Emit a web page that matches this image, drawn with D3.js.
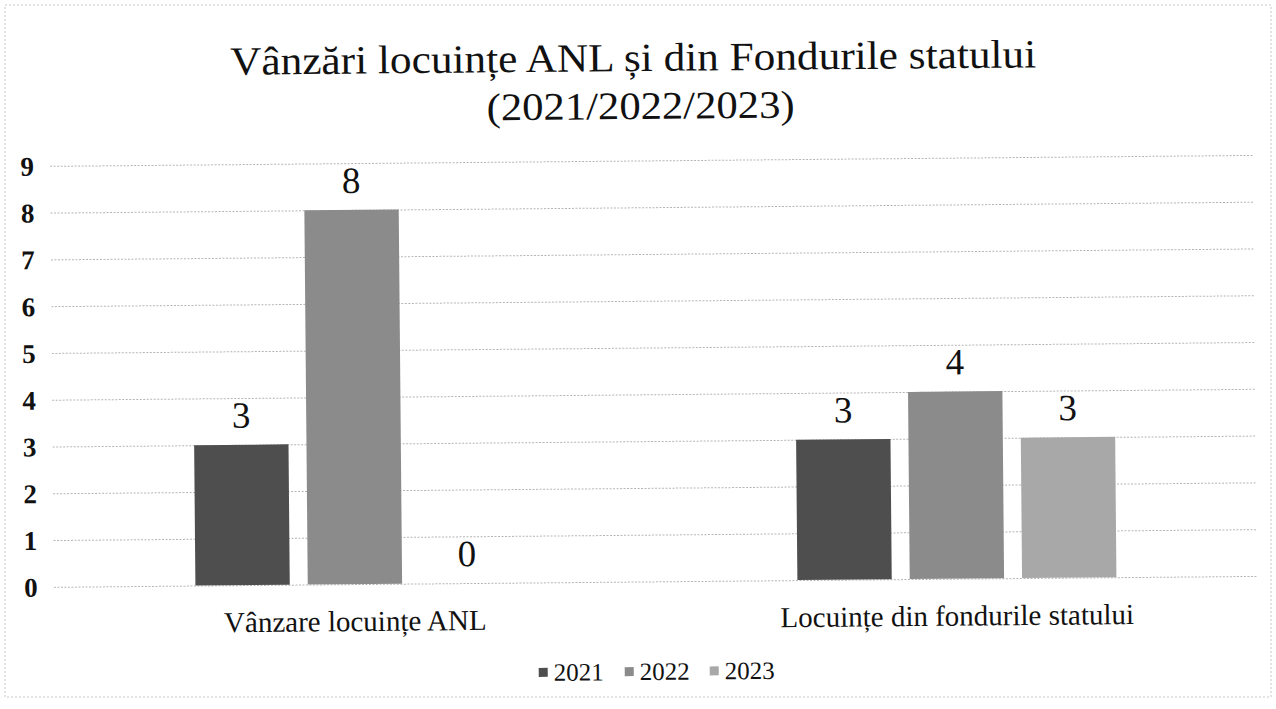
<!DOCTYPE html>
<html>
<head>
<meta charset="utf-8">
<script src="https://cdn.jsdelivr.net/npm/d3@7"></script>
<style>
  html, body { margin: 0; padding: 0; background: #fff; }
  svg { display: block; }
  svg text { font-family: "Liberation Serif", "Times New Roman", serif !important; fill: #111; }
</style>
</head>
<body>
<svg id="chart" width="1276" height="709"></svg>
<script>
const categories = ["Vânzare locuințe ANL", "Locuințe din fondurile statului"];
const years = ["2021", "2022", "2023"];
const values2021 = [3, 3];
const values2022 = [8, 4];
const values2023 = [0, 3];
const yTicks = [0, 1, 2, 3, 4, 5, 6, 7, 8, 9];
const titleLines = ["Vânzări locuințe ANL și din Fondurile statului", "(2021/2022/2023)"];
const colors = ["#4e4e4e", "#8b8b8b", "#a8a8a8"];

const series = [values2021, values2022, values2023];

const svg = d3.select("#chart");

// faint scan frame
svg.append("rect").attr("x", 5).attr("y", 5).attr("width", 1266).attr("height", 692)
  .attr("fill", "none").attr("stroke", "#c8c8c8").attr("stroke-width", 1).attr("stroke-dasharray", "2,2");

const g = svg.append("g").attr("transform", "rotate(-0.52, 640, 370)");

const left = 52, right = 1256;
const y = d3.scaleLinear().domain([0, 9]).range([581.5, 160.5]);
const x0 = d3.scaleBand().domain(categories).range([left, right]).paddingInner(0.47).paddingOuter(0.235);
const x1 = d3.scaleBand().domain(years).range([0, x0.bandwidth()]).paddingInner(0.16).paddingOuter(0);

// title
g.append("text").attr("x", 636).attr("y", 71).attr("text-anchor", "middle")
  .style("font-size", "40px").attr("textLength", 806).attr("lengthAdjust", "spacingAndGlyphs")
  .text(titleLines[0]);
g.append("text").attr("x", 643).attr("y", 119).attr("text-anchor", "middle")
  .style("font-size", "39px").attr("textLength", 308).attr("lengthAdjust", "spacingAndGlyphs")
  .text(titleLines[1]);

// gridlines + y labels
const yAxis = d3.axisLeft(y).tickValues(yTicks).tickSize(-(right - left)).tickPadding(12).tickFormat(d3.format("d"));
const ya = g.append("g").attr("transform", `translate(${left},0)`).call(yAxis);
ya.select(".domain").remove();
ya.selectAll(".tick line").attr("stroke", "#b5b5b5").attr("stroke-width", 1).attr("stroke-dasharray", "2,1.5");
ya.selectAll(".tick text").attr("x", -23).attr("text-anchor", "middle").attr("dy", "0.34em")
  .style("font-size", "27px").style("font-weight", "bold").attr("fill", "#111");

// bars
const groups = g.selectAll(".grp").data(categories).join("g")
  .attr("class", "grp").attr("transform", d => `translate(${x0(d)},0)`);

groups.each(function(cat, ci) {
  const grp = d3.select(this);
  years.forEach((yr, si) => {
    const v = series[si][ci];
    grp.append("rect")
      .attr("x", x1(yr)).attr("y", y(v))
      .attr("width", x1.bandwidth()).attr("height", y(0) - y(v))
      .attr("fill", colors[si]);
    grp.append("text")
      .attr("x", x1(yr) + x1.bandwidth() / 2).attr("y", y(v) - 17)
      .attr("text-anchor", "middle").style("font-size", "37px")
      .text(v);
  });
});

// category labels
const xAxis = d3.axisBottom(x0).tickSize(0).tickPadding(0);
const xa = g.append("g").attr("transform", `translate(0,${y(0)})`).call(xAxis);
xa.select(".domain").remove();
xa.selectAll(".tick text").attr("dy", null).attr("y", 47)
  .style("font-size", "29px").attr("fill", "#111");

// legend
const legend = g.append("g").attr("transform", "translate(536, 672)");
const leg = d3.scaleOrdinal().domain(years).range([0, 86, 171]);
years.forEach((yr, i) => {
  legend.append("rect").attr("x", leg(yr)).attr("y", -5).attr("width", 9).attr("height", 9).attr("fill", colors[i]);
  legend.append("text").attr("x", leg(yr) + 15).attr("y", 8).style("font-size", "25px").text(yr);
});
</script>
</body>
</html>
